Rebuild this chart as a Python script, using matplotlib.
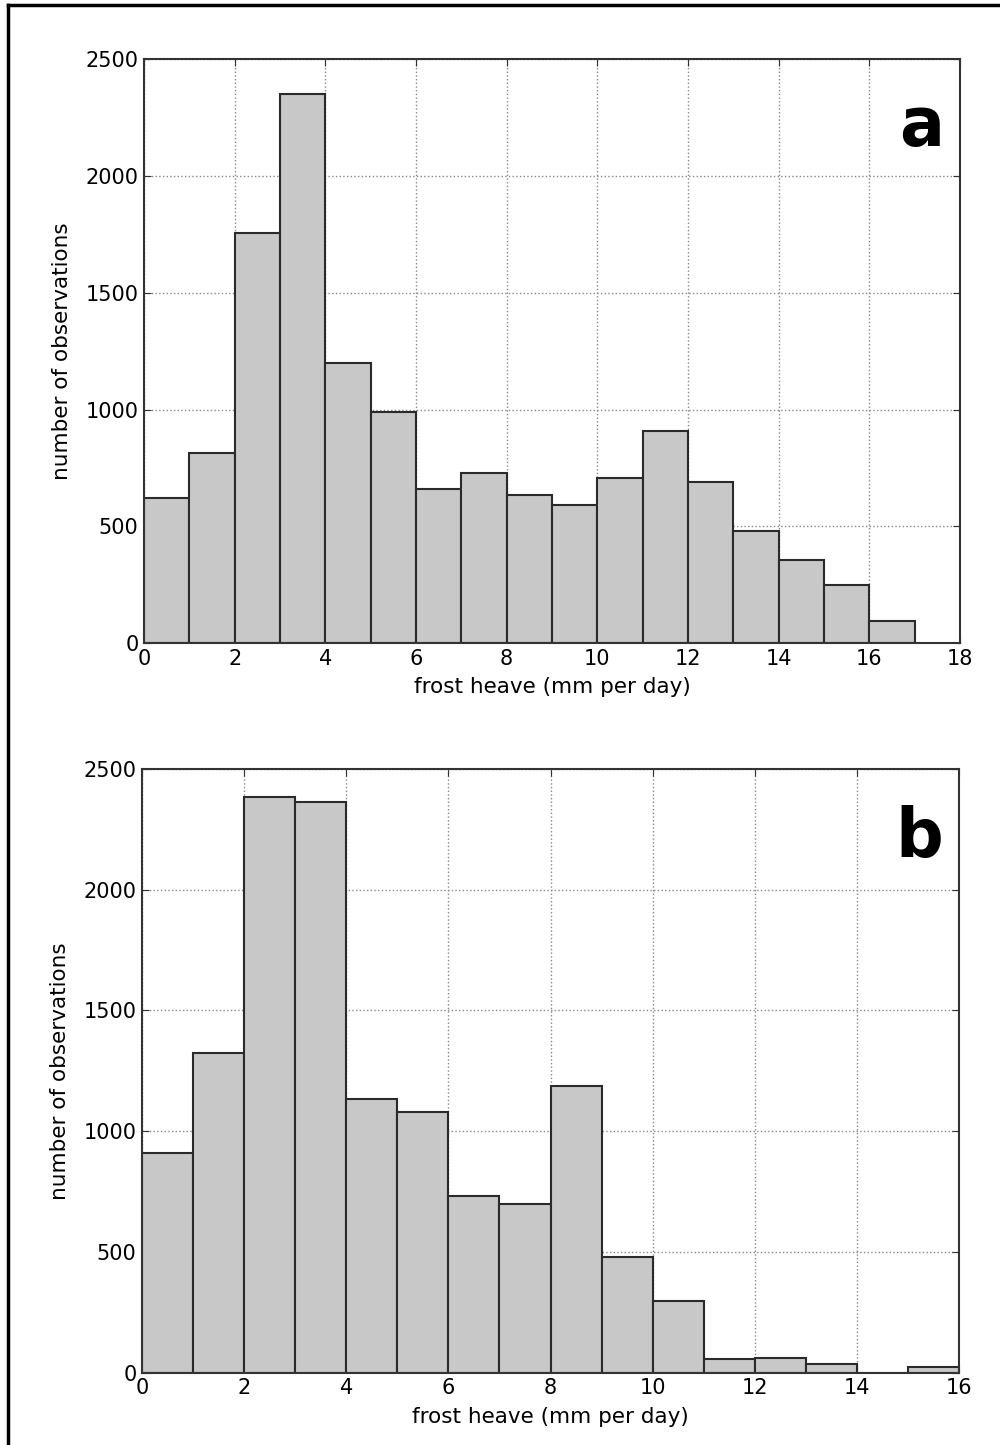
import numpy as np
import matplotlib
matplotlib.use('Agg')
import matplotlib.pyplot as plt
from matplotlib.lines import Line2D

# Histogram counts, 1 mm bins
bins_a = np.arange(0, 18)
counts_a = [623, 813, 1758, 2350, 1201, 991, 659, 728, 632, 593,
            705, 908, 689, 481, 357, 250, 93]

bins_b = np.arange(0, 17)
counts_b = [910, 1325, 2384, 2361, 1134, 1079, 733, 698, 1187, 480,
            297, 55, 59, 37, 0, 23]

plt.rcParams['font.family'] = 'DejaVu Sans'

fig = plt.figure(figsize=(10, 14.45), dpi=100)

# outer frame: only top and left lines visible
fig.add_artist(Line2D([0.008, 0.008], [0, 0.9965], transform=fig.transFigure,
                      color='black', lw=2.5))
fig.add_artist(Line2D([0.008, 1.0], [0.9965, 0.9965], transform=fig.transFigure,
                      color='black', lw=2.5))


def draw_panel(rect, edges, counts, xmax, letter):
    ax = fig.add_axes(rect)
    ax.hist(edges[:-1], bins=edges, weights=counts, color='#c8c8c8',
            edgecolor='#2a2a2a', linewidth=1.5, zorder=2)
    ax.set_xlim(0, xmax)
    ax.set_ylim(0, 2500)
    ax.set_xticks(np.arange(0, xmax + 1, 2))
    ax.set_yticks(np.arange(0, 2501, 500))
    ax.grid(True, linestyle=':', color='#888888', linewidth=1.0, zorder=1)
    ax.set_axisbelow(True)
    ax.tick_params(direction='in', top=True, right=True, labelsize=15,
                   length=5, color='#333333', pad=4)
    for s in ax.spines.values():
        s.set_linewidth(1.5)
        s.set_color('#333333')
    ax.set_xlabel('frost heave (mm per day)', fontsize=15.5, labelpad=6)
    ax.set_ylabel('number of observations', fontsize=15.5, labelpad=10)
    ax.text(0.98, 0.94, letter, transform=ax.transAxes, ha='right', va='top',
            fontsize=48, fontweight='bold')
    return ax


draw_panel([0.144, 0.555, 0.816, 0.404], bins_a, counts_a, 18, 'a')
draw_panel([0.142, 0.050, 0.817, 0.418], bins_b, counts_b, 16, 'b')

fig.savefig('out.png', dpi=100)
